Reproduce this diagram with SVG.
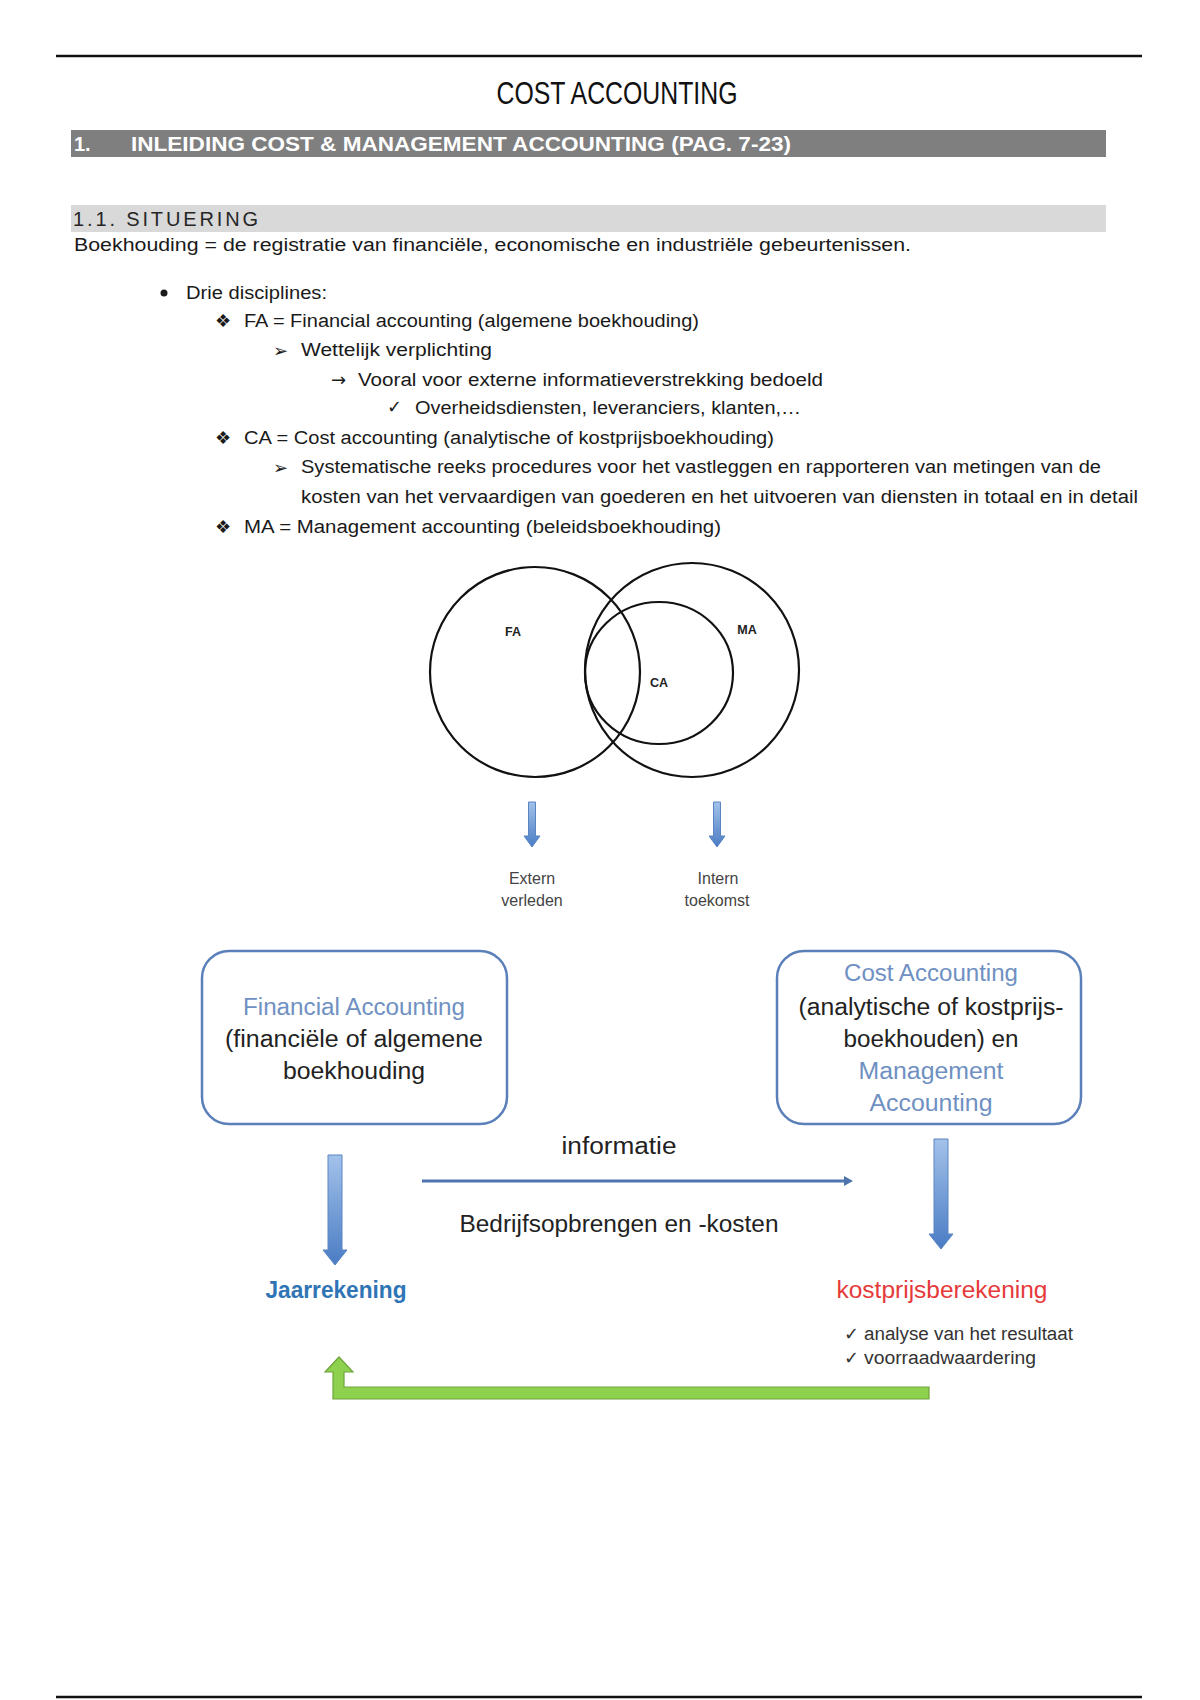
<svg xmlns="http://www.w3.org/2000/svg" width="1200" height="1700" viewBox="0 0 1200 1700">
<defs>
<style>
.t{font-family:"Liberation Sans",Arial,sans-serif;fill:#1a1a1a;font-size:18px}
.sym{font-family:"DejaVu Sans",sans-serif;fill:#1a1a1a;font-size:18px}
.box{fill:#fff;stroke:#5b80b9;stroke-width:2.5}
.bt{font-family:"Liberation Sans",Arial,sans-serif;font-size:23px;fill:#222;text-anchor:middle}
.blue{fill:#6f90c2}
.circ{fill:none;stroke:#111;stroke-width:2.2}
.vl{font-family:"Liberation Sans",Arial,sans-serif;font-size:12.5px;font-weight:bold;fill:#222;text-anchor:middle}
.small{font-family:"Liberation Sans",Arial,sans-serif;font-size:16px;fill:#444;text-anchor:middle}
.barrow{fill:url(#bg);stroke:#5a85c3;stroke-width:1}
</style>
<linearGradient id="bg" x1="0" y1="0" x2="0" y2="1">
<stop offset="0" stop-color="#a3c2ea"/>
<stop offset="1" stop-color="#4a7cc4"/>
</linearGradient>
</defs>
<rect width="1200" height="1700" fill="#fff"/>

<g id="page">
<line x1="56" y1="56" x2="1142" y2="56" stroke="#111" stroke-width="2.5"/>
<text class="t" x="617" y="104" style="font-size:31px;fill:#111" text-anchor="middle" textLength="241" lengthAdjust="spacingAndGlyphs">COST ACCOUNTING</text>
<rect x="71" y="130" width="1035" height="27" fill="#7f7f7f"/>
<text class="t" x="74" y="151" style="font-size:20px;fill:#fff;font-weight:bold">1.</text>
<text class="t" x="131" y="151" style="font-size:20px;fill:#fff;font-weight:bold" textLength="660" lengthAdjust="spacingAndGlyphs">INLEIDING COST &amp; MANAGEMENT ACCOUNTING  (PAG. 7-23)</text>
<rect x="71" y="205" width="1035" height="27" fill="#d9d9d9"/>
<text class="t" x="73" y="226" style="font-size:20px;fill:#262626" textLength="185" lengthAdjust="spacing">1.1. SITUERING</text>
<text class="t" x="74" y="251" textLength="837" lengthAdjust="spacingAndGlyphs">Boekhouding = de registratie van financiële, economische en industriële gebeurtenissen.</text>

<circle cx="164" cy="293" r="3.5" fill="#1a1a1a"/>
<text class="t" x="186" y="299" textLength="141" lengthAdjust="spacingAndGlyphs">Drie disciplines:</text>
<text class="sym" x="215" y="327">❖</text>
<text class="t" x="244" y="327" textLength="455" lengthAdjust="spacingAndGlyphs">FA = Financial accounting (algemene boekhouding)</text>
<text class="sym" x="273" y="357">➢</text>
<text class="t" x="301" y="356" textLength="191" lengthAdjust="spacingAndGlyphs">Wettelijk verplichting</text>
<text class="sym" x="331" y="386">→</text>
<text class="t" x="358" y="386" textLength="465" lengthAdjust="spacingAndGlyphs">Vooral voor externe informatieverstrekking bedoeld</text>
<text class="sym" x="387" y="413">✓</text>
<text class="t" x="415" y="414" textLength="386" lengthAdjust="spacingAndGlyphs">Overheidsdiensten, leveranciers, klanten,…</text>
<text class="sym" x="215" y="444">❖</text>
<text class="t" x="244" y="444" textLength="530" lengthAdjust="spacingAndGlyphs">CA = Cost accounting (analytische of kostprijsboekhouding)</text>
<text class="sym" x="273" y="474">➢</text>
<text class="t" x="301" y="473" textLength="800" lengthAdjust="spacingAndGlyphs">Systematische reeks procedures voor het vastleggen en rapporteren van metingen van de</text>
<text class="t" x="301" y="503" textLength="837" lengthAdjust="spacingAndGlyphs">kosten van het vervaardigen van goederen en het uitvoeren van diensten in totaal en in detail</text>
<text class="sym" x="215" y="533">❖</text>
<text class="t" x="244" y="533" textLength="477" lengthAdjust="spacingAndGlyphs">MA = Management accounting (beleidsboekhouding)</text>
</g>

<g id="venn">
<circle class="circ" cx="535" cy="672" r="105"/>
<circle class="circ" cx="692" cy="670" r="107"/>
<ellipse class="circ" cx="659" cy="673" rx="74" ry="71"/>
<text class="vl" x="513" y="636">FA</text>
<text class="vl" x="747" y="634">MA</text>
<text class="vl" x="659" y="687">CA</text>
</g>

<g id="extern">
<text class="small" x="532" y="884">Extern</text>
<text class="small" x="532" y="906">verleden</text>
</g>
<g id="intern">
<text class="small" x="718" y="884">Intern</text>
<text class="small" x="717" y="906">toekomst</text>
</g>

<g id="fa-box">
<rect class="box" x="202" y="951" width="305" height="173" rx="27"/>
<text class="bt blue" x="354" y="1015" textLength="222" lengthAdjust="spacingAndGlyphs">Financial Accounting</text>
<text class="bt" x="354" y="1047" textLength="258" lengthAdjust="spacingAndGlyphs">(financiële of algemene</text>
<text class="bt" x="354" y="1079" textLength="142" lengthAdjust="spacingAndGlyphs">boekhouding</text>
</g>

<g id="ca-box">
<rect class="box" x="777" y="951" width="304" height="173" rx="27"/>
<text class="bt blue" x="931" y="981" textLength="174" lengthAdjust="spacingAndGlyphs">Cost Accounting</text>
<text class="bt" x="931" y="1015" textLength="265" lengthAdjust="spacingAndGlyphs">(analytische of kostprijs-</text>
<text class="bt" x="931" y="1047" textLength="175" lengthAdjust="spacingAndGlyphs">boekhouden) en</text>
<text class="bt blue" x="931" y="1079" textLength="145" lengthAdjust="spacingAndGlyphs">Management</text>
<text class="bt blue" x="931" y="1111" textLength="123" lengthAdjust="spacingAndGlyphs">Accounting</text>
</g>

<g id="jaarrekening">
<text class="bt" x="336" y="1298" style="fill:#2f75b5;font-weight:bold" textLength="141" lengthAdjust="spacingAndGlyphs">Jaarrekening</text>
</g>

<g id="kostprijsberekening">
<text class="bt" x="942" y="1298" style="fill:#e53a3a" textLength="211" lengthAdjust="spacingAndGlyphs">kostprijsberekening</text>
<text class="sym" x="844" y="1340" style="fill:#333">✓</text>
<text class="t" x="864" y="1340" style="fill:#333" textLength="209" lengthAdjust="spacingAndGlyphs">analyse van het resultaat</text>
<text class="sym" x="844" y="1364" style="fill:#333">✓</text>
<text class="t" x="864" y="1364" style="fill:#333" textLength="172" lengthAdjust="spacingAndGlyphs">voorraadwaardering</text>
</g>

<g id="connectors">
<path class="barrow" d="M528.5,802 H535.5 V836 H540 L532,847 L524,836 H528.5 Z"/>
<path class="barrow" d="M713.5,802 H720.5 V836 H725 L717,847 L709,836 H713.5 Z"/>
<path class="barrow" d="M328,1155 H342 V1250 H347 L335,1265 L323,1250 H328 Z"/>
<path class="barrow" d="M934,1139 H948 V1234 H953 L941,1249 L929,1234 H934 Z"/>
<line x1="422" y1="1181" x2="846" y2="1181" stroke="#4d74ad" stroke-width="3"/>
<path d="M844,1176 L853,1181 L844,1186 Z" fill="#4d74ad"/>
<path d="M929,1387 H344 V1372 H353 L339,1357 L325,1372 H333 V1399 H929 Z" fill="#8ed14f" stroke="#6fa43c" stroke-width="1.2"/>
</g>

<g id="labels">
<text class="bt" x="619" y="1154" textLength="115" lengthAdjust="spacingAndGlyphs">informatie</text>
<text class="bt" x="619" y="1232" textLength="319" lengthAdjust="spacingAndGlyphs">Bedrijfsopbrengen en -kosten</text>
</g>

<line x1="56" y1="1697" x2="1142" y2="1697" stroke="#111" stroke-width="2.5"/>
</svg>
